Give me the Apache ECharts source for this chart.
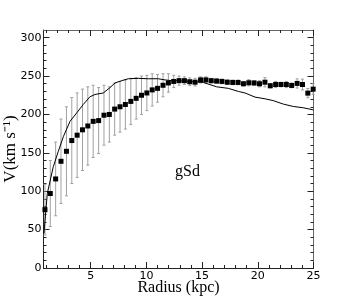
<!DOCTYPE html>
<html>
<head>
<meta charset="utf-8">
<script src="https://cdn.jsdelivr.net/npm/echarts@6/dist/echarts.min.js"></script>
<style>html,body{margin:0;padding:0;background:#fff;}#c{width:349px;height:299px;}</style>
</head>
<body>
<div id="c"></div>
<script>
// Observed rotation curve (radius in kpc, velocity and error in km/s)
const radius = [0.89, 1.37, 1.85, 2.33, 2.82, 3.30, 3.78, 4.26, 4.74, 5.22, 5.71, 6.19, 6.67, 7.15, 7.63, 8.11, 8.60, 9.08, 9.56, 10.04, 10.52, 11.00, 11.49, 11.97, 12.45, 12.93, 13.41, 13.89, 14.37, 14.86, 15.34, 15.82, 16.30, 16.78, 17.26, 17.75, 18.23, 18.71, 19.19, 19.67, 20.15, 20.64, 21.12, 21.60, 22.08, 22.56, 23.04, 23.53, 24.01, 24.49, 24.97];
const velocity = [76, 97, 116, 139, 152, 166, 173, 180, 185, 191, 192, 199, 200, 207, 210, 213, 217, 221, 225, 228, 232, 234, 238, 241, 243, 244, 244, 242.6, 242, 245, 245, 244, 243.5, 243, 242, 241.7, 241.7, 240, 241.3, 241, 240, 242, 237.4, 239, 239, 239, 237.8, 240.4, 239, 227.8, 233];
const velErr = [33, 43, 48, 55, 58, 56, 55, 53, 51, 47, 43, 39, 36, 34, 33, 32, 30, 27, 25, 23, 21, 18, 15, 12, 8, 6, 5, 5, 5, 4, 4, 3, 3, 3, 3, 3, 3, 3, 4, 3, 4, 6, 3, 4, 3, 4, 3, 6, 7, 6, 7];
// Model curve
const modelR = [0.8, 1.1, 1.64, 2.09, 2.54, 3.14, 3.74, 4.33, 4.93, 5.38, 6.13, 6.73, 7.18, 7.78, 8.37, 9.27, 10.17, 11.06, 11.66, 12.27, 12.86, 15.1, 16.31, 17.35, 18.25, 18.85, 19.75, 20.64, 21.39, 22.29, 23.18, 24.08, 24.98];
const modelV = [45, 97, 132, 152, 171, 191, 202, 213, 223, 226, 228, 235, 241, 244, 246.5, 247, 246.5, 246.5, 245, 244, 244, 241.7, 236, 234, 230, 228, 222.6, 220.4, 218, 213.5, 210.4, 208.7, 206];
// Ticks
const xTickLabels = [5, 10, 15, 20, 25];
const xMinorTicks = [1,2,3,4,6,7,8,9,11,12,13,14,16,17,18,19,21,22,23,24];
const yTickLabels = [0, 50, 100, 150, 200, 250, 300];
const yMinorTicks = [10,20,30,40,60,70,80,90,110,120,130,140,160,170,180,190,210,220,230,240,260,270,280,290];

const XMIN = 0.76, XMAX = 25, YMIN = 0, YMAX = 310;
const axisCol = '#222';
const frameCol = '#666';

function xAx(pos, major, showLine, showLabel, name) {
  const a = {
    type: 'value', min: XMIN, max: XMAX, position: pos,
    axisLine: { show: showLine, onZero: false, lineStyle: { color: pos === 'top' ? frameCol : axisCol, width: 1 } },
    axisTick: { show: true, inside: true, length: major ? 6 : 3, customValues: major ? xTickLabels : xMinorTicks, lineStyle: { color: axisCol } },
    axisLabel: { show: showLabel, customValues: xTickLabels, fontFamily: 'DejaVu Sans', fontSize: 11, color: '#000', margin: 3 },
    splitLine: { show: false }
  };
  if (name) {
    a.name = name; a.nameLocation = 'middle'; a.nameGap = 12; a.nameMoveOverlap = false;
    a.nameTextStyle = { fontFamily: 'Liberation Serif', fontSize: 16, color: '#000' };
  }
  return a;
}
function yAx(pos, major, showLine, showLabel, name) {
  const a = {
    type: 'value', min: YMIN, max: YMAX, position: pos,
    axisLine: { show: showLine, onZero: false, lineStyle: { color: pos === 'right' ? frameCol : axisCol, width: 1 } },
    axisTick: { show: true, inside: true, length: major ? 6 : 3, customValues: major ? yTickLabels : yMinorTicks, lineStyle: { color: axisCol } },
    axisLabel: { show: showLabel, customValues: yTickLabels, fontFamily: 'DejaVu Sans', fontSize: 11, color: '#000', margin: 2 },
    splitLine: { show: false }
  };
  if (name) {
    a.name = name; a.nameLocation = 'middle'; a.nameGap = 24; a.nameRotate = 90; a.nameMoveOverlap = false;
    a.nameTextStyle = { fontFamily: 'Liberation Serif', fontSize: 17, color: '#000' };
  }
  return a;
}

const chart = echarts.init(document.getElementById('c'), null, { renderer: 'canvas' });
chart.setOption({
  animation: false,
  backgroundColor: '#fff',
  grid: { left: 43.5, right: 35.5, top: 30, bottom: 31, containLabel: false, outerBoundsMode: 'none' },
  xAxis: [
    xAx('bottom', true, true, true, 'Radius (kpc)'),
    xAx('bottom', false, false, false),
    xAx('top', true, true, false),
    xAx('top', false, false, false)
  ],
  yAxis: [
    yAx('left', true, true, true, 'V(km s\u207B\u00B9)'),
    yAx('left', false, false, false),
    yAx('right', true, true, false),
    yAx('right', false, false, false)
  ],
  graphic: [{
    type: 'text', left: 175, top: 164,
    style: { text: 'gSd', font: '16px "Liberation Serif"', fill: '#000' }
  }],
  series: [
    {
      type: 'custom', xAxisIndex: 0, yAxisIndex: 0, z: 2,
      data: radius.map((r, i) => [r, velocity[i], velErr[i]]),
      renderItem: function (params, api) {
        const x = api.value(0), v = api.value(1), e = api.value(2);
        const t = api.coord([x, v + e]), b = api.coord([x, v - e]);
        const cw = 1.5;
        const st = { stroke: '#a0a0a0', lineWidth: 1 };
        return {
          type: 'group', children: [
            { type: 'line', shape: { x1: t[0], y1: t[1], x2: b[0], y2: b[1] }, style: st },
            { type: 'line', shape: { x1: t[0] - cw, y1: t[1], x2: t[0] + cw, y2: t[1] }, style: st },
            { type: 'line', shape: { x1: b[0] - cw, y1: b[1], x2: b[0] + cw, y2: b[1] }, style: st }
          ]
        };
      }
    },
    {
      type: 'line', xAxisIndex: 0, yAxisIndex: 0, z: 3,
      data: modelR.map((r, i) => [r, modelV[i]]),
      showSymbol: false, symbol: 'none',
      lineStyle: { color: '#000', width: 1 }
    },
    {
      type: 'scatter', xAxisIndex: 0, yAxisIndex: 0, z: 4,
      data: radius.map((r, i) => [r, velocity[i]]),
      symbol: 'rect', symbolSize: 5,
      itemStyle: { color: '#000', opacity: 1 }
    }
  ]
});
</script>
</body>
</html>
